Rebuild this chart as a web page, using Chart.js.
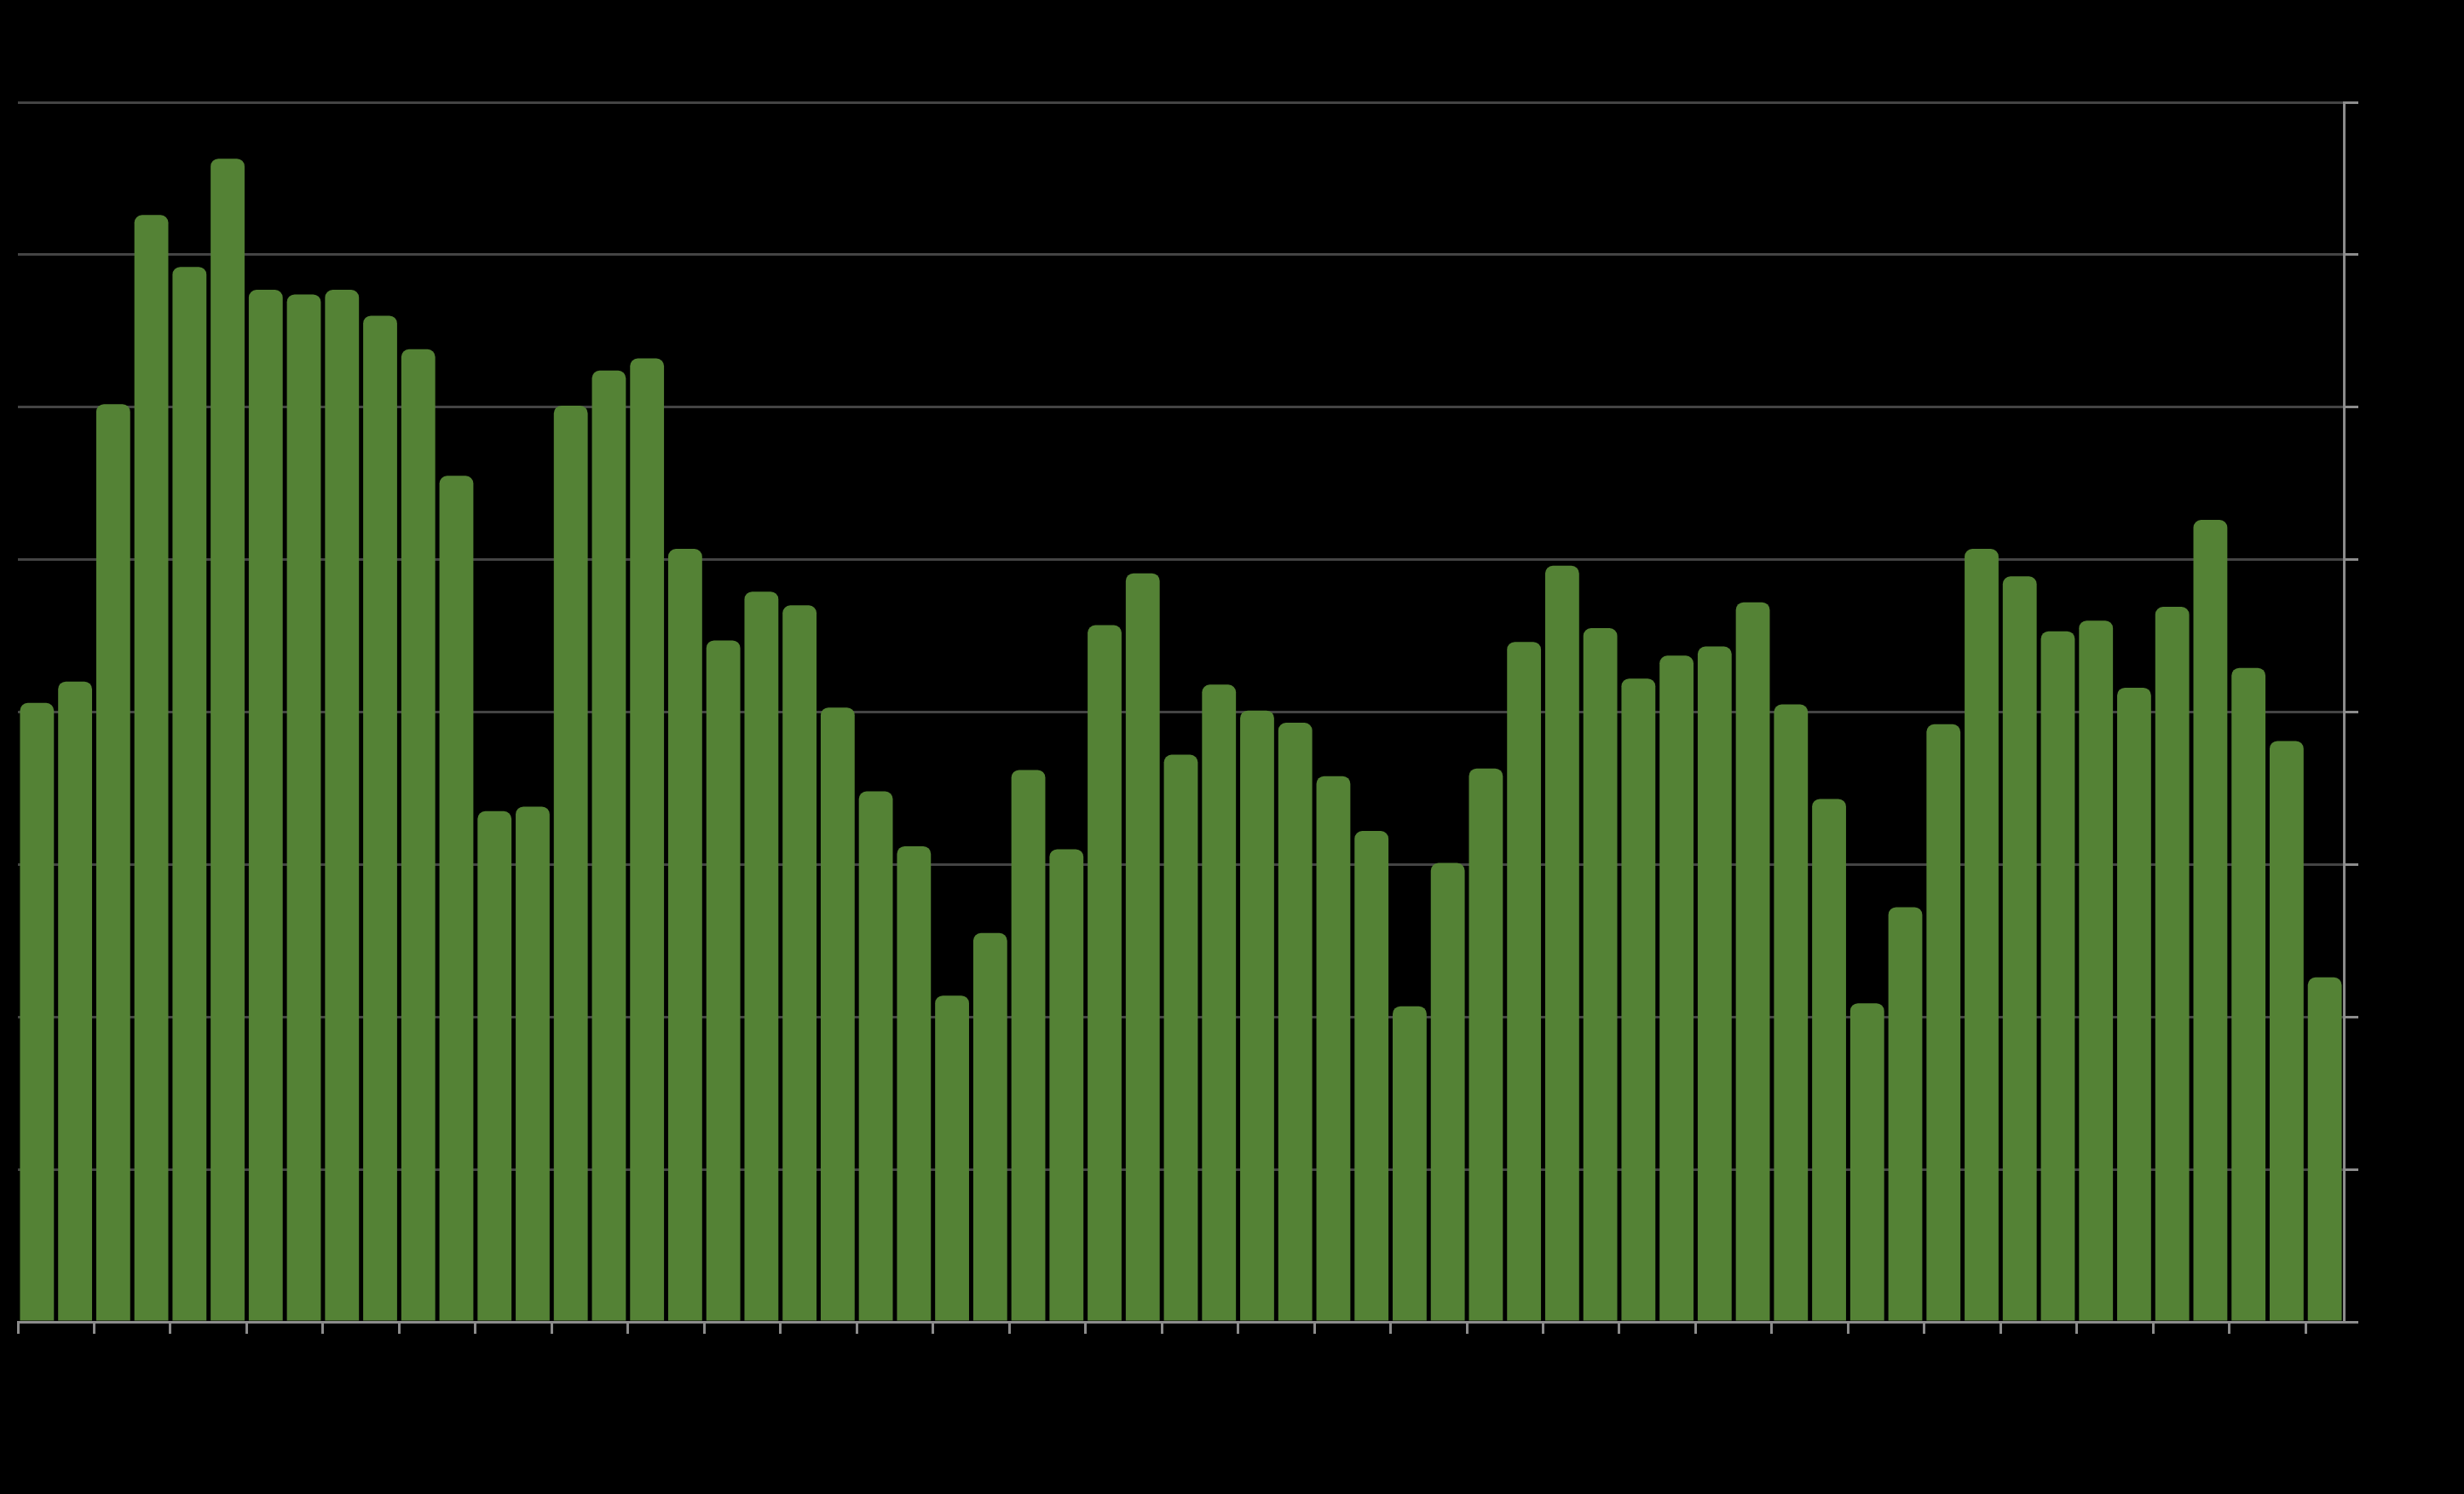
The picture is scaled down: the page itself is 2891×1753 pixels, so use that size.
<!DOCTYPE html>
<html>
<head>
<meta charset="utf-8">
<script src="https://cdn.jsdelivr.net/npm/chart.js@4/dist/chart.umd.min.js"></script>
<style>
    html, body { margin: 0; padding: 0; background: #000; }
    #bar-chart { display: block; }
</style>
</head>
<body>
<canvas id="bar-chart" width="2891" height="1753"></canvas>
<script>
// 61 categories, no readable labels in the picture
const categories = [];
for (let i = 1; i <= 61; i++) categories.push(String(i));

// bar heights (scale 0..80)
const values = [
    40.6, 42.0, 60.2, 72.6, 69.2, 76.3, 67.7, 67.4, 67.7, 66.0,
    63.8, 55.5, 33.5, 33.8, 60.1, 62.4, 63.2, 50.7, 44.7, 47.9,
    47.0, 40.3, 34.8, 31.2, 21.4, 25.5, 36.2, 31.0, 45.7, 49.1,
    37.2, 41.8, 40.1, 39.3, 35.8, 32.2, 20.7, 30.1, 36.3, 44.6,
    49.6, 45.5, 42.2, 43.7, 44.3, 47.2, 40.5, 34.3, 20.9, 27.2,
    39.2, 50.7, 48.9, 45.3, 46.0, 41.6, 46.9, 52.6, 42.9, 38.1,
    22.6
];

const yMin = 0;
const yMax = 80;
const yStep = 10;

const axisGrey = '#8c8c8c';
const gridGrey = '#444444';

function barChart() {
    const ctx = document.getElementById('bar-chart').getContext('2d');

    new Chart(ctx, {
        type: 'bar',
        data: {
            labels: categories,
            datasets: [{
                data: values,
                backgroundColor: '#548235',
                borderWidth: 0,
                borderRadius: 9,
                borderSkipped: 'start',
                categoryPercentage: 1.0,
                barPercentage: 0.89
            }]
        },
        options: {
            responsive: false,
            animation: false,
            devicePixelRatio: 1,
            layout: {
                padding: { left: 21, top: 120, right: 124, bottom: 188 }
            },
            plugins: {
                legend: { display: false },
                tooltip: { enabled: false }
            },
            scales: {
                x: {
                    offset: true,
                    grid: {
                        offset: true,
                        drawOnChartArea: false,
                        lineWidth: 3,
                        tickLength: 14,
                        // tick mark on every second boundary
                        tickColor: function (c) {
                            return (c.index !== undefined && c.index % 2 === 0) ? axisGrey : 'rgba(0,0,0,0)';
                        }
                    },
                    border: { color: axisGrey, width: 3 },
                    ticks: { display: false }
                },
                y: {
                    position: 'right',
                    min: yMin,
                    max: yMax,
                    ticks: { display: false, stepSize: yStep },
                    grid: {
                        color: gridGrey,
                        lineWidth: 3,
                        tickColor: axisGrey,
                        tickLength: 17
                    },
                    border: { color: axisGrey, width: 3 }
                }
            }
        }
    });
}

barChart();
</script>
</body>
</html>
